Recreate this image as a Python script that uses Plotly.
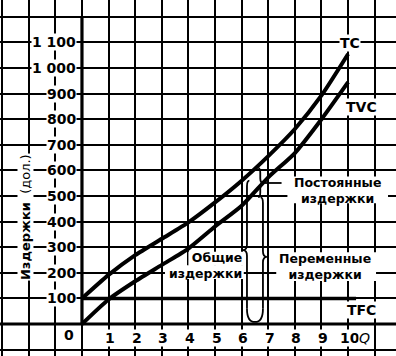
import plotly.graph_objects as go

# ---- data ----
Q = [0, 1, 2, 3, 4, 5, 6, 7, 8, 9, 10]
TC = [100, 192, 269, 333, 397, 475, 560, 656, 762, 893, 1055]
TVC = [0, 96, 167, 231, 295, 381, 462, 573, 668, 800, 945]
Q_TFC = [0, 10.3]
TFC = [100, 100]

Y_TICKS = [100, 200, 300, 400, 500, 600, 700, 800, 900, 1000, 1100]
Y_LABELS = ["100", "200", "300", "400", "500", "600", "700", "800", "900", "1 000", "1 100"]
X_TICKS = [1, 2, 3, 4, 5, 6, 7, 8, 9, 10]
X_LABELS = ["1", "2", "3", "4", "5", "6", "7", "8", "9", "10"]

FONT = "DejaVu Sans"
BLACK = "#000000"

fig = go.Figure()
for xs, ys, w, shp in [(Q, TC, 4, "spline"), (Q, TVC, 4, "spline"), (Q_TFC, TFC, 3.5, "linear")]:
    fig.add_trace(go.Scatter(x=xs, y=ys, mode="lines",
                             line=dict(color=BLACK, width=w, shape=shp, smoothing=0.6),
                             showlegend=False, hoverinfo="skip"))

fig.update_layout(
    width=396, height=356,
    margin=dict(l=0, r=0, t=0, b=0),
    paper_bgcolor="white", plot_bgcolor="white",
    xaxis=dict(range=[-3.08, 11.8], tick0=0, dtick=1, showgrid=True, gridcolor=BLACK,
               gridwidth=1.7, zeroline=False, showticklabels=False, showline=False, ticks=""),
    yaxis=dict(range=[-125, 1266], tick0=0, dtick=100, showgrid=True, gridcolor=BLACK,
               gridwidth=1.7, zeroline=False, showticklabels=False, showline=False, ticks=""),
    font=dict(family=FONT, color=BLACK),
)

# white patches behind the explanatory texts (between grid and curves)
for x0, x1, y0, y1 in [(7.72, 11.5, 472, 576), (7.3, 11.05, 168, 280),
                       (4.0, 6.08, 228, 282), (3.12, 6.08, 176, 230)]:
    fig.add_shape(type="rect", xref="x", yref="y", x0=x0, x1=x1, y0=y0, y1=y1,
                  fillcolor="white", line=dict(width=0), layer="between")

# axes (thick)
fig.add_shape(type="line", xref="x", yref="y", x0=0, x1=0, y0=0, y1=1200,
              line=dict(color=BLACK, width=3.2))
fig.add_shape(type="line", xref="paper", yref="y", x0=0, x1=1, y0=0, y1=0,
              line=dict(color=BLACK, width=3.2))

# braces
def brace(x0, y_bot, y_top, y_tip, d, w=0.15, c=22, top=True, bottom=True):
    p = []
    if top:
        p.append(f"M{x0 - d*w*0.6},{y_top} Q{x0},{y_top} {x0},{y_top - c}")
    else:
        p.append(f"M{x0},{y_top}")
    p.append(f"L{x0},{y_tip + c} Q{x0},{y_tip} {x0 + d*w},{y_tip} Q{x0},{y_tip} {x0},{y_tip - c}")
    if bottom:
        p.append(f"L{x0},{y_bot + c} Q{x0},{y_bot} {x0 - d*w*0.6},{y_bot}")
    else:
        p.append(f"L{x0},{y_bot}")
    return " ".join(p)

BL = dict(color=BLACK, width=1.8)
fig.add_shape(type="path", xref="x", yref="y", path=brace(6.2, 60, 560, 289, -1, bottom=False), line=BL)
fig.add_shape(type="path", xref="x", yref="y", path=brace(6.8, 60, 495, 262, 1, bottom=False), line=BL)
fig.add_shape(type="path", xref="x", yref="y",
              path="M6.2,60 Q6.2,8 6.5,8 Q6.8,8 6.8,60", line=BL)
fig.add_shape(type="path", xref="x", yref="y", path=brace(6.7, 496, 609, 551, 1, w=0.13, c=18), line=BL)
fig.add_shape(type="line", xref="x", yref="y", x0=6.86, x1=7.5, y0=551, y1=551,
              line=dict(color=BLACK, width=1.8))

def label(text, x, y, size=14, xanchor="center", bold=True, italic=False, align="center", bg="white"):
    t = text
    if bold:
        t = f"<b>{t}</b>"
    if italic:
        t = f"<i>{t}</i>"
    fig.add_annotation(x=x, y=y, xref="x", yref="y", text=t, showarrow=False,
                       xanchor=xanchor, yanchor="middle", align=align,
                       font=dict(family=FONT, size=size, color=BLACK),
                       bgcolor=bg, borderpad=0)

# tick labels
for v, s in zip(Y_TICKS, Y_LABELS):
    label(s, -0.19, v, xanchor="right")
label("0", -0.26, -43, xanchor="right")
for v, s in zip(X_TICKS, X_LABELS):
    label(s, v + 0.06, -55)
label("Q", 10.62, -55, bold=False, italic=True)

# axis title
fig.add_annotation(x=-2.14, y=418, xref="x", yref="y",
                   text="<b>Издержки</b>  (дол.)", showarrow=False, textangle=-90,
                   font=dict(family=FONT, size=13, color=BLACK), bgcolor="white", borderpad=0)

# curve labels
label("TC", 10.08, 1098)
label("TVC", 10.49, 848)
label("TFC", 10.49, 55)

# explanatory labels (no box; white patches above handle the grid)
label("Постоянные<br>издержки", 9.59, 523, size=12.5, bg="rgba(0,0,0,0)")
label("Общие<br>издержки", 6.05, 229, size=12.5, xanchor="right", align="right", bg="rgba(0,0,0,0)")
label("Переменные<br>издержки", 9.13, 224, size=12.5, bg="rgba(0,0,0,0)")

fig.write_html("out.html", config={"displayModeBar": False},
               post_script="document.body.style.margin='0';document.body.style.overflow='hidden';")
